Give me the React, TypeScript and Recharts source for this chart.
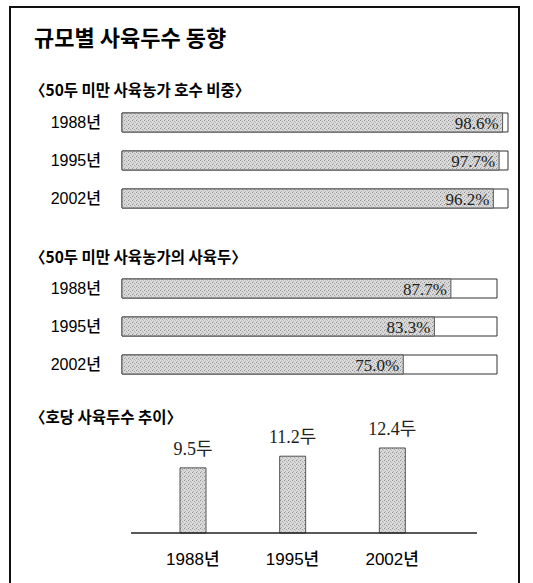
import { BarChart, Bar, XAxis, YAxis, LabelList } from "recharts";

const years = ["1988년", "1995년", "2002년"];
const smallFarmShare = [98.6, 97.7, 96.2];
const smallFarmHeadShare = [87.7, 83.3, 75.0];
const headsPerFarm = [9.5, 11.2, 12.4];

const sans = "'Liberation Sans', 'Noto Sans CJK KR', sans-serif";
const serif = "'Liberation Serif', 'Noto Sans CJK KR', serif";
const hangul = "'Noto Sans CJK KR', sans-serif";

function Stipple({ id }: { id: string }) {
  return (
    <defs>
      <pattern id={id} width={4} height={4} patternUnits="userSpaceOnUse">
        <rect width={4} height={4} fill="#dadada" />
        <rect x={0} y={0} width={1} height={1} fill="#909090" />
        <rect x={2} y={1} width={1} height={1} fill="#a4a4a4" />
        <rect x={1} y={3} width={1} height={1} fill="#b0b0b0" />
        <rect x={3} y={2} width={1} height={1} fill="#bcbcbc" />
      </pattern>
    </defs>
  );
}

type ShareProps = {
  id: string;
  values: number[];
  top: number;
  right: number;
};

function ShareBars({ id, values, top, right }: ShareProps) {
  const data = years.map((year, i) => ({ year, value: values[i] }));
  return (
    <div style={{ position: "absolute", left: 0, top }}>
      <BarChart
        width={533}
        height={117}
        data={data}
        layout="vertical"
        margin={{ top: 3, right, bottom: 0, left: 0 }}
        barSize={19}
      >
        <Stipple id={id} />
        <XAxis type="number" domain={[0, 100]} hide />
        <YAxis
          type="category"
          dataKey="year"
          width={122}
          axisLine={false}
          tickLine={false}
          tickSize={0}
          tickMargin={21}
          tick={{ fontSize: 16, fill: "#000", fontFamily: sans, fontWeight: 500 }}
        />
        <Bar
          dataKey="value"
          fill={`url(#${id})`}
          stroke="#555"
          strokeWidth={1}
          background={{ fill: "#fff", stroke: "#333", strokeWidth: 1 }}
          isAnimationActive={false}
        >
          <LabelList
            dataKey="value"
            position="insideRight"
            offset={4}
            formatter={(v: any) => `${Number(v).toFixed(1)}%`}
            style={{ fontSize: 17, fill: "#222", fontFamily: serif }}
          />
        </Bar>
      </BarChart>
    </div>
  );
}

function HeadsChart() {
  const data = years.map((year, i) => ({ year, value: headsPerFarm[i] }));
  return (
    <div style={{ position: "absolute", left: 0, top: 420 }}>
      <BarChart
        width={533}
        height={160}
        data={data}
        margin={{ top: 17, right: 56, bottom: 0, left: 131 }}
        barSize={26}
      >
        <Stipple id="stipple3" />
        <XAxis
          dataKey="year"
          height={47}
          padding={{ left: 12, right: 35 }}
          axisLine={{ stroke: "#222", strokeWidth: 1.5 }}
          tickLine={false}
          tickSize={0}
          tickMargin={20}
          tick={{ fontSize: 17, fill: "#000", fontFamily: sans, fontWeight: 500 }}
        />
        <YAxis hide domain={[0, 14]} />
        <Bar
          dataKey="value"
          fill="url(#stipple3)"
          stroke="#555"
          strokeWidth={1}
          isAnimationActive={false}
        >
          <LabelList
            dataKey="value"
            position="top"
            offset={13}
            formatter={(v: any) => `${v}두`}
            style={{ fontSize: 18, fill: "#222", fontFamily: serif }}
          />
        </Bar>
      </BarChart>
    </div>
  );
}

const heading = {
  position: "absolute" as const,
  left: 30,
  fontFamily: hangul,
  fontWeight: 700,
  color: "#000",
  whiteSpace: "nowrap" as const,
};

export default function App() {
  return (
    <div
      style={{
        position: "absolute",
        left: 0,
        top: 0,
        width: 533,
        height: 583,
        background: "#fff",
        overflow: "hidden",
      }}
    >
      <div
        style={{
          position: "absolute",
          left: 9,
          top: 6,
          width: 507,
          height: 620,
          borderLeft: "2px solid #111",
          borderRight: "2px solid #111",
          borderTop: "2px solid #111",
        }}
      />
      <div style={{ ...heading, top: 22, fontSize: 22, lineHeight: "28px", left: 34 }}>
        규모별 사육두수 동향
      </div>
      <div style={{ ...heading, top: 80, fontSize: 15.5, lineHeight: "19px" }}>
        〈50두 미만 사육농가 호수 비중〉
      </div>
      <ShareBars id="stipple1" values={smallFarmShare} top={100} right={25} />
      <div style={{ ...heading, top: 247, fontSize: 15.5, lineHeight: "19px" }}>
        〈50두 미만 사육농가의 사육두〉
      </div>
      <ShareBars id="stipple2" values={smallFarmHeadShare} top={266} right={36} />
      <div style={{ ...heading, top: 407, fontSize: 15.5, lineHeight: "19px" }}>
        〈호당 사육두수 추이〉
      </div>
      <HeadsChart />
    </div>
  );
}
